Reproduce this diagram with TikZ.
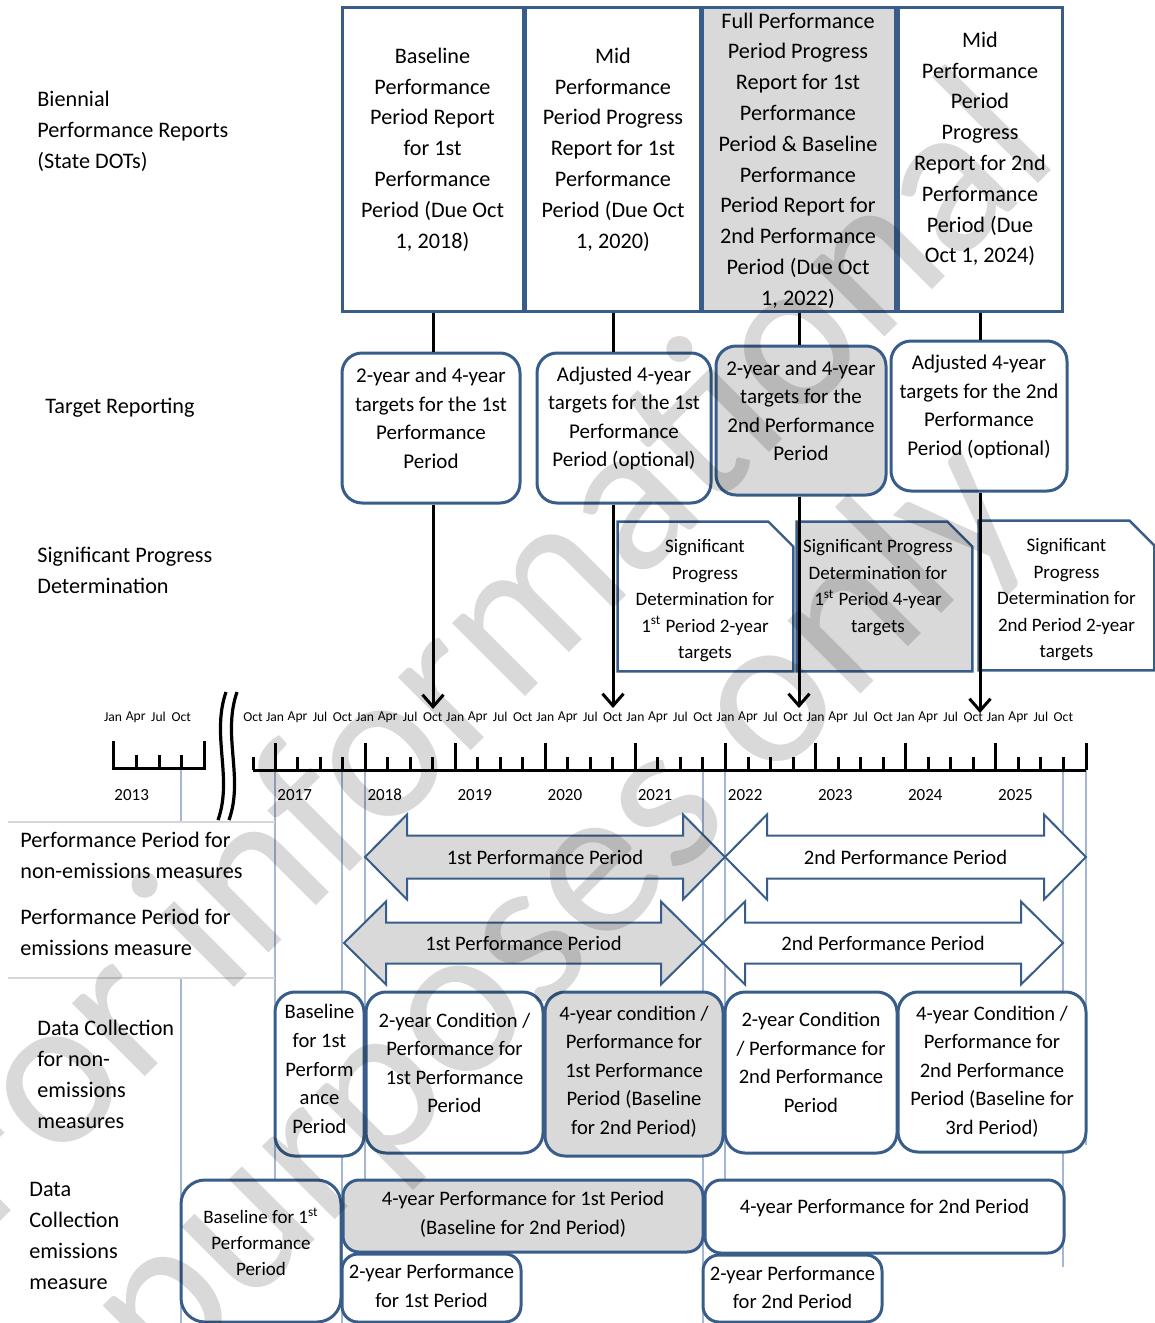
\documentclass[tikz,border=0pt]{standalone}
\usepackage{fontspec}
\setmainfont{Carlito}
\usetikzlibrary{arrows.meta}

\definecolor{boxblue}{RGB}{56,93,138}
\definecolor{boxgray}{RGB}{217,217,217}
\definecolor{gridblue}{RGB}{163,183,212}
\definecolor{cellgray}{RGB}{215,215,215}

\tikzset{
  rowlabel/.style={anchor=west, align=left, inner sep=0pt, font=\fontsize{11.1}{15.5}\selectfont},
  reportbox/.style={draw=boxblue, line width=1.5pt, fill=white, inner sep=0pt},
  reporttext/.style={align=center, inner sep=0pt, font=\fontsize{11.1}{15.4}\selectfont},
  targetbox/.style={draw=boxblue, line width=1.5pt, fill=white, rounded corners=10pt, inner sep=0pt},
  targettext/.style={align=center, inner sep=0pt, font=\fontsize{10.5}{14.25}\selectfont},
  sigspot/.style={inner sep=0pt},
  sigline/.style={draw=boxblue, line width=1.2pt, fill=white, line join=miter},
  sigtext/.style={align=center, inner sep=0pt, font=\fontsize{9.5}{13.25}\selectfont},
  databox/.style={draw=boxblue, line width=1.5pt, fill=white, rounded corners=10pt, inner sep=0pt},
  datatext/.style={align=center, inner sep=0pt, font=\fontsize{10.3}{14.3}\selectfont},
  periodarrow/.style={draw=boxblue, line width=1pt, line join=miter},
  arrowtext/.style={inner sep=0pt, font=\fontsize{10.3}{12}\selectfont},
  stem/.style={line width=1.5pt},
  axis/.style={line width=1.5pt},
  month/.style={inner sep=0pt, font=\fontsize{6.8}{7}\selectfont},
  yearlabel/.style={anchor=west, inner sep=0pt, font=\fontsize{8.5}{10}\selectfont},
  gridline/.style={draw=gridblue, line width=0.6pt},
  watermark/.style={anchor=base, rotate=45, inner sep=0pt, text=black, text opacity=0.15,
    font=\fontsize{108}{116}\selectfont}
}

\begin{document}
\begin{tikzpicture}[x=0.5pt, y=-0.5pt]
 \useasboundingbox (0,0) rectangle (1155,1323);

 %grid lines
 \foreach \gx/\gtop/\gbot in {181/770/1323, 275/770/1323, 342/757/1323, 365/770/1323,
      703/770/1323, 725/770/1323, 1063/770/1267, 1086/770/1145}
   \draw[gridline] (\gx,\gtop) -- (\gx,\gbot);

 %label cell
 \fill[white] (8,822) rectangle (274,978);
 \draw[cellgray, line width=0.6pt] (8,822) -- (275,822);
 \draw[cellgray, line width=0.6pt] (8,978) -- (275,978);

 %row labels
 \node[rowlabel] (Lrep) at (37,131) {Biennial\\Performance Reports\\(State DOTs)};
 \node[rowlabel] (Ltar) at (45,408) {Target Reporting};
 \node[rowlabel] (Lsig) at (37,570.5) {Significant Progress\\Determination};
 \node[rowlabel] (Lnon) at (20,855.5) {Performance Period for\\non-emissions measures};
 \node[rowlabel] (Lemi) at (20,932.5) {Performance Period for\\emissions measure};
 \node[rowlabel] (Ldcn) at (37,1074) {Data Collection\\for non-\\emissions\\measures};
 \node[rowlabel] (Ldce) at (29,1236) {Data\\Collection\\emissions\\measure};

 %level 1: reports
 \node[reportbox, minimum width=90.5pt, minimum height=152pt] (R1) at (432.5,159) {};
 \node[reporttext] (R1t) at (432.5,149.5) {Baseline\\Performance\\Period Report\\for 1st\\Performance\\Period (Due Oct\\1, 2018)};
 \node[reportbox, minimum width=87.5pt, minimum height=152pt] (R2) at (612.5,159) {};
 \node[reporttext] (R2t) at (613,149.5) {Mid\\Performance\\Period Progress\\Report for 1st\\Performance\\Period (Due Oct\\1, 2020)};
 \node[reportbox, fill=boxgray, minimum width=96.5pt, minimum height=152pt] (R3) at (798.5,159) {};
 \node[reporttext] (R3t) at (798,160.5) {Full Performance\\Period Progress\\Report for 1st\\Performance\\Period \& Baseline\\Performance\\Period Report for\\2nd Performance\\Period (Due Oct\\1, 2022)};
 \node[reportbox, minimum width=82pt, minimum height=152pt] (R4) at (980,159) {};
 \node[reporttext] (R4t) at (980,149) {Mid\\Performance\\Period\\Progress\\Report for 2nd\\Performance\\Period (Due\\Oct 1, 2024)};

 %level 2: targets
 \node[targetbox, minimum width=89pt, minimum height=75pt] (T1) at (431,428) {};
 \node[targettext] (T1t) at (431,418.5) {2-year and 4-year\\targets for the 1st\\Performance\\Period};
 \node[targetbox, minimum width=87pt, minimum height=75pt] (T2) at (624,428) {};
 \node[targettext] (T2t) at (624,418.5) {Adjusted 4-year\\targets for the 1st\\Performance\\Period (optional)};
 \node[targetbox, fill=boxgray, minimum width=85pt, minimum height=74.5pt] (T3) at (801,420.5) {};
 \node[targettext] (T3t) at (801,411) {2-year and 4-year\\targets for the\\2nd Performance\\Period};
 \node[targetbox, minimum width=88pt, minimum height=75pt] (T4) at (979,416) {};
 \node[targettext] (T4t) at (979,407) {Adjusted 4-year\\targets for the 2nd\\Performance\\Period (optional)};

 %level 3: significant progress
 \foreach \s/\sx/\sy/\fillc in {S1/705.5/596.5/white, S2/884.5/596.5/boxgray, S3/1066.5/595.5/white} {
   \node[sigspot, minimum width=87.5pt, minimum height=74.5pt] (\s) at (\sx,\sy) {};
   \draw[sigline, fill=\fillc] (\s.north west) -- ([xshift=-12.5pt]\s.north east)
      -- ([yshift=-12.5pt]\s.north east) -- (\s.south east) -- (\s.south west) -- cycle;
 }
 \node[sigtext] (S1t) at (705,601) {Significant\\Progress\\Determination for\\1\textsuperscript{st} Period 2-year\\targets};
 \node[sigtext] (S2t) at (878,587.5) {Significant Progress\\Determination for\\1\textsuperscript{st} Period 4-year\\targets};
 \node[sigtext] (S3t) at (1066.5,600) {Significant\\Progress\\Determination for\\2nd Period 2-year\\targets};

 %arrows down to the time line
 \coordinate (A1) at (433,709);
 \coordinate (A2) at (613,708);
 \coordinate (A3) at (799,708);
 \coordinate (A4) at (980,713);
 \foreach \a/\r/\t in {A1/R1/T1, A2/R2/T2, A3/R3/T3, A4/R4/T4} {
   \draw[stem] (\a |- \r.south) -- (\a |- \t.north);
   \draw[stem, -{Straight Barb[length=6pt,width=10.5pt]}] (\a |- \t.south) -- (\a);
 }

 %time line 2013
 \draw[axis] (113,741) -- (113,768) -- (204,768) -- (204,741);
 \foreach \tx in {136,159,181}
   \draw[axis] (\tx,755) -- (\tx,768);
 \foreach \m [count=\i from 0] in {Jan,Apr,Jul,Oct}
   \node[month] (M13\i) at (113+\i*22.75,717) {\m};
 \node[yearlabel] (Y2013) at (114,795) {2013};

 %break
 \draw[line width=1.6pt] (226,692) .. controls (211,735) and (233,778) .. (218,820);
 \draw[line width=1.6pt] (237,692) .. controls (222,735) and (244,778) .. (229,820);

 %time line 2017-2025
 \draw[axis] (253,770) -- (1086,770);
 \draw[axis] (253,757) -- (253,770);
 \draw[axis] (1086,743) -- (1086,770);
 \node[month] (M16) at (253,717) {Oct};
 \foreach \yr [count=\k from 0] in {2017,...,2025} {
   \draw[axis] (275+\k*90.1,743) -- (275+\k*90.1,770);
   \foreach \q in {1,2,3}
     \draw[axis] (275+\k*90.1+\q*22.53,757) -- ++(0,13);
   \foreach \m [count=\i from 0] in {Jan,Apr,Jul,Oct}
     \node[month] (M\yr\i) at (275+\k*90.1+\i*22.53,717) {\m};
   \node[yearlabel] (Y\yr) at (277+\k*90.1,795) {\yr};
 }

 %performance periods
 \foreach \xl/\xr/\yc/\bh/\hh/\fillc/\name/\txt in {
     365/725/857/21.5/42.5/boxgray/P1n/1st Performance Period,
     725/1086/857/21.5/42.5/white/P2n/2nd Performance Period,
     344/703/943/20.5/41.5/boxgray/P1e/1st Performance Period,
     703/1063/943/20.5/41.5/white/P2e/2nd Performance Period} {
   \draw[periodarrow, fill=\fillc] (\xl,\yc) -- (\xl+42,\yc-\hh) -- (\xl+42,\yc-\bh) -- (\xr-42,\yc-\bh)
      -- (\xr-42,\yc-\hh) -- (\xr,\yc) -- (\xr-42,\yc+\hh) -- (\xr-42,\yc+\bh) -- (\xl+42,\yc+\bh)
      -- (\xl+42,\yc+\hh) -- cycle;
   \node[arrowtext] (\name) at ({(\xl+\xr)/2},\yc) {\txt};
 }

 %data collection non-emissions
 \node[databox, minimum width=44.5pt, minimum height=82pt] (D0) at (319.5,1074) {};
 \node[datatext] (D0t) at (319.5,1069) {Baseline\\for 1st\\Perform\\ance\\Period};
 \node[databox, minimum width=88.5pt, minimum height=80.5pt] (D1) at (454.5,1072.5) {};
 \node[datatext] (D1t) at (454.5,1063) {2-year Condition /\\Performance for\\1st Performance\\Period};
 \node[databox, fill=boxgray, minimum width=89pt, minimum height=82pt] (D2) at (634,1074) {};
 \node[datatext] (D2t) at (634,1071.5) {4-year condition /\\Performance for\\1st Performance\\Period (Baseline\\for 2nd Period)};
 \node[databox, minimum width=86pt, minimum height=80.5pt] (D3) at (811,1072.5) {};
 \node[datatext] (D3t) at (811,1062.5) {2-year Condition\\/ Performance for\\2nd Performance\\Period};
 \node[databox, minimum width=94pt, minimum height=80pt] (D4) at (992,1072) {};
 \node[datatext] (D4t) at (992,1071.5) {4-year Condition /\\Performance for\\2nd Performance\\Period (Baseline for\\3rd Period)};

 %data collection emissions
 \node[databox, rounded corners=12pt, minimum width=80pt, minimum height=71pt] (E0) at (261,1251) {};
 \node[sigtext, font=\fontsize{9.5}{13}\selectfont] (E0t) at (261,1242) {Baseline for 1\textsuperscript{st}\\Performance\\Period};
 \node[databox, fill=boxgray, rounded corners=8pt, minimum width=180pt, minimum height=36pt] (E1) at (523,1216) {};
 \node[datatext] (E1t) at (523,1214) {4-year Performance for 1st Period\\(Baseline for 2nd Period)};
 \node[databox, rounded corners=8pt, minimum width=89.5pt, minimum height=34pt] (E2) at (431.5,1288) {};
 \node[datatext] (E2t) at (431.5,1286) {2-year Performance\\for 1st Period};
 \node[databox, rounded corners=8pt, minimum width=179.5pt, minimum height=36.5pt] (E3) at (884.5,1216.5) {};
 \node[datatext] (E3t) at (884.5,1208) {4-year Performance for 2nd Period};
 \node[databox, rounded corners=8pt, minimum width=89.5pt, minimum height=33.5pt] (E4) at (792.5,1288.5) {};
 \node[datatext] (E4t) at (792.5,1287.5) {2-year Performance\\for 2nd Period};

 %watermark
 \node[watermark] (W1) at (525,697) {For informational};
 \node[watermark] (W2) at (600,955) {purposes only};

\end{tikzpicture}
\end{document}
